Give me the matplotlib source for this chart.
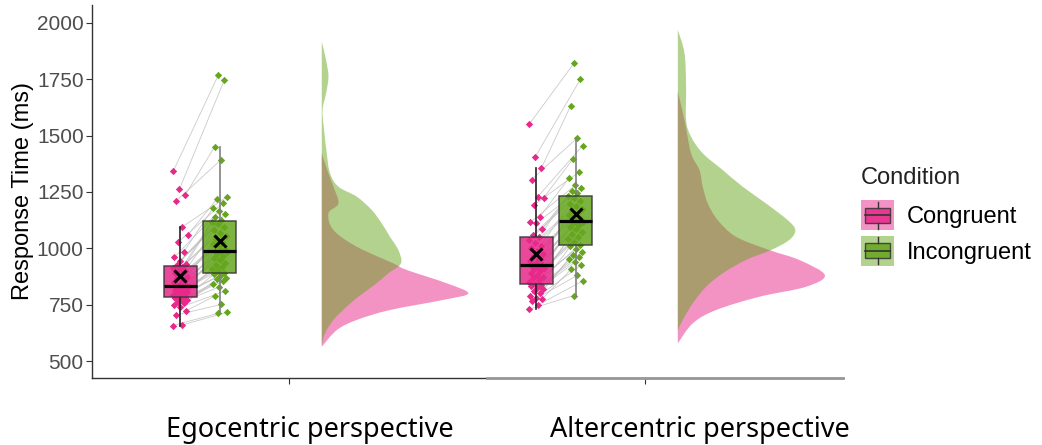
import numpy as np
import matplotlib.pyplot as plt
from matplotlib.patches import Rectangle, PathPatch
from matplotlib.path import Path
from matplotlib.lines import Line2D
from matplotlib.legend_handler import HandlerBase

plt.rcParams['font.family'] = ['Liberation Sans', 'DejaVu Sans']

# response times (ms), one value per participant, paired by index
ego_cong = [657, 660, 704, 722, 738, 748, 756, 763, 770, 775, 779, 783,
            787, 792, 797, 802, 807, 812, 817, 821, 825, 829, 832, 833,
            836, 842, 850, 858, 866, 874, 882, 890, 898, 905, 912, 918,
            925, 932, 945, 960, 985, 1026, 1058, 1093, 1208, 1237, 1261, 1343]
ego_incong = [711, 716, 751, 790, 810, 828, 842, 853, 862, 870, 878, 886,
              891, 898, 906, 915, 924, 935, 946, 957, 967, 976, 983, 986,
              990, 998, 1008, 1018, 1030, 1042, 1055, 1068, 1080, 1095, 1108, 1118,
              1125, 1140, 1152, 1165, 1180, 1200, 1218, 1227, 1391, 1450, 1746, 1768]
alt_cong = [729, 750, 767, 775, 780, 790, 800, 810, 818, 826, 832, 838,
            843, 850, 858, 866, 874, 882, 890, 898, 906, 913, 919, 922,
            926, 933, 942, 952, 963, 975, 988, 1000, 1012, 1025, 1036, 1048,
            1060, 1085, 1110, 1115, 1140, 1192, 1224, 1228, 1305, 1355, 1406, 1551]
alt_incong = [790, 856, 880, 908, 925, 939, 952, 962, 972, 985, 998, 1008,
              1016, 1028, 1040, 1052, 1063, 1074, 1085, 1095, 1104, 1111, 1116, 1118,
              1122, 1128, 1136, 1146, 1156, 1166, 1176, 1186, 1198, 1210, 1222, 1230,
              1243, 1255, 1267, 1280, 1313, 1338, 1396, 1455, 1487, 1632, 1749, 1823]

# density profiles: (response time, relative density)
ego_cong_rt = [1421, 1332, 1273, 1199, 1155, 1081, 1007, 933, 904, 845, 800, 771, 726, 682, 637, 563]
ego_cong_d = [0, 6.7, 11.7, 16.7, 6.7, 11.7, 35, 71.7, 85, 125, 146.7, 121.7, 68.3, 35, 15, 0]
ego_incong_rt = [1916, 1835, 1761, 1687, 1613, 1524, 1421, 1332, 1273, 1229, 1170, 1111,
                 1051, 992, 933, 889, 845, 785, 741, 682, 623, 571]
ego_incong_d = [0, 4.3, 6.7, 4.3, 0.8, 2.3, 5, 8.3, 16.7, 35, 50, 60,
                68.3, 76.7, 79.3, 66.7, 55, 36.7, 25, 11.7, 3.3, 0]
alt_cong_rt = [1694, 1569, 1421, 1347, 1273, 1199, 1125, 1051, 992, 948, 881, 829, 785, 726, 667, 578]
alt_cong_d = [0, 6.7, 13.3, 21.7, 25, 30, 40, 58.3, 91.7, 121.7, 147.3, 128.3, 81.7, 38.3, 15, 0]
alt_incong_rt = [1968, 1865, 1717, 1569, 1495, 1421, 1347, 1273, 1199, 1125, 1081, 1037,
                 992, 948, 889, 829, 756, 682, 637]
alt_incong_d = [0, 6.7, 8.3, 8.3, 13.3, 25, 45, 65, 88.3, 110, 117.7, 111.7,
                93.3, 68.3, 45, 28.3, 15, 5, 0]

conditions = ['Congruent', 'Incongruent']
perspectives = ['Egocentric perspective', 'Altercentric perspective']
colors = ['#E7298A', '#66A61E']

panels = [
    (ego_cong, ego_incong, (ego_cong_rt, ego_cong_d), (ego_incong_rt, ego_incong_d)),
    (alt_cong, alt_incong, (alt_cong_rt, alt_cong_d), (alt_incong_rt, alt_incong_d)),
]


def smooth_outline(xs, ys, x_base):
    # catmull-rom -> cubic bezier through the read points, closed along the baseline
    pts = np.column_stack([xs, ys])
    ext = np.vstack([pts[0], pts, pts[-1]])
    verts = [tuple(pts[0])]
    codes = [Path.MOVETO]
    for i in range(1, len(ext) - 2):
        p0, p1, p2, p3 = ext[i - 1], ext[i], ext[i + 1], ext[i + 2]
        c1 = p1 + (p2 - p0) / 6
        c2 = p2 - (p3 - p1) / 6
        c1[0] = max(c1[0], x_base)
        c2[0] = max(c2[0], x_base)
        verts += [tuple(c1), tuple(c2), tuple(p2)]
        codes += [Path.CURVE4] * 3
    verts += [(x_base, ys[-1]), (x_base, ys[0]), (x_base, ys[0])]
    codes += [Path.LINETO, Path.LINETO, Path.CLOSEPOLY]
    return Path(verts, codes)


fig = plt.figure(figsize=(10.42, 4.45), dpi=100)
ax = fig.add_axes([92 / 1042, 67 / 445, 751 / 1042, 373 / 445])

box_off = [-0.305, -0.195]
box_w = 0.093
violin_off = 0.092
violin_w = 0.413
dmax = max(max(ego_cong_d), max(ego_incong_d), max(alt_cong_d), max(alt_incong_d))

for k, (c, ic, dc, dic) in enumerate(panels):
    xc = k + 1
    c = np.array(c)
    ic = np.array(ic)
    n = len(c)
    j1 = 0.022 * (((np.arange(n) * 0.618034) % 1) * 2 - 1)
    j2 = 0.022 * (((np.arange(n) * 0.618034 + 0.37) % 1) * 2 - 1)
    x1 = xc + box_off[0] + j1
    x2 = xc + box_off[1] + j2
    # paired lines
    for a in range(n):
        ax.plot([x1[a], x2[a]], [c[a], ic[a]], color='#bdbdbd', lw=0.6, alpha=0.8, zorder=1)
    ax.scatter(x1, c, marker='D', s=14, color=colors[0], zorder=2, linewidths=0)
    ax.scatter(x2, ic, marker='D', s=14, color=colors[1], zorder=2, linewidths=0)

    bp = ax.boxplot([c, ic], positions=[xc + box_off[0], xc + box_off[1]], widths=box_w,
                    patch_artist=True, showfliers=False, showmeans=True, showcaps=False,
                    manage_ticks=False,
                    medianprops=dict(color='black', lw=2.3),
                    meanprops=dict(marker='x', markeredgecolor='black', markersize=9, markeredgewidth=2.2),
                    boxprops=dict(edgecolor='#333333', lw=1.1),
                    whiskerprops=dict(lw=1.2))
    for i, patch in enumerate(bp['boxes']):
        patch.set_facecolor(colors[i])
        patch.set_alpha(0.85)
        patch.set_edgecolor('#333333')
        patch.set_zorder(3)
    for w in bp['whiskers'][:2]:
        w.set_color('#222222')
    for w in bp['whiskers'][2:]:
        w.set_color('#808080')
    for m in bp['medians'] + bp['means']:
        m.set_zorder(4)

    # half violins (pink first, green on top)
    for i, (rt, d) in enumerate([dc, dic]):
        base = xc + violin_off
        width = np.array(d) / dmax * violin_w
        path = smooth_outline(base + width, np.array(rt, dtype=float), base)
        ax.add_patch(PathPatch(path, facecolor=colors[i], alpha=0.5, lw=0, zorder=1))

ax.set_xlim(0.4466, 2.556)
ax.set_ylim(424.6, 2079)
ax.set_yticks([500, 750, 1000, 1250, 1500, 1750, 2000])
ax.set_xticks([1, 2])
ax.set_xticklabels(['', ''])
for s in ['top', 'right']:
    ax.spines[s].set_visible(False)
for s in ['left', 'bottom']:
    ax.spines[s].set_color('#333333')
    ax.spines[s].set_linewidth(1)
ax.tick_params(axis='y', labelsize=15, labelcolor='#4d4d4d', color='#333333', length=4, pad=2)
ax.tick_params(axis='x', color='#333333', length=4)
ax.set_ylabel('Response Time (ms)', fontsize=17, color='black', labelpad=2)

# grey overlay on the right part of the x axis line
ax.plot([1.5548, 2.556], [424.6, 424.6], color='#999999', lw=2, clip_on=False, zorder=5)

# x labels
xlab_pos = [309.5 / 1042, 699.5 / 1042]
for p, t in zip(xlab_pos, perspectives):
    fig.text(p, 1 - 437 / 445, t, ha='center', va='baseline', fontsize=19.5,
             family=['Noto Sans', 'DejaVu Sans'], color='black')


class BoxKey(HandlerBase):
    def create_artists(self, legend, orig_handle, xdescent, ydescent, width, height, fontsize, trans):
        col = orig_handle.get_facecolor()
        x0, y0 = -xdescent, -ydescent
        bg = Rectangle((x0, y0), width, height, facecolor=col, alpha=0.5, edgecolor='none', transform=trans)
        box = Rectangle((x0 + width * 0.12, y0 + height * 0.25), width * 0.76, height * 0.5,
                        facecolor=col, alpha=0.85, edgecolor='#333333', lw=1, transform=trans)
        med = Line2D([x0 + width * 0.12, x0 + width * 0.88], [y0 + height * 0.5] * 2, color='#333333', lw=1.2, transform=trans)
        w1 = Line2D([x0 + width * 0.5] * 2, [y0 + height * 0.75, y0 + height * 0.95], color='#333333', lw=1, transform=trans)
        w2 = Line2D([x0 + width * 0.5] * 2, [y0 + height * 0.05, y0 + height * 0.25], color='#333333', lw=1, transform=trans)
        return [bg, box, med, w1, w2]


handles = [Rectangle((0, 0), 1, 1, facecolor=col) for col in colors]
leg = fig.legend(handles, conditions, handler_map={Rectangle: BoxKey()},
                 loc='upper left', bbox_to_anchor=(861 / 1042, 1 - 167 / 445),
                 frameon=False, fontsize=17, title='Condition', title_fontsize=17,
                 alignment='left', handlelength=1.4, handleheight=1.6,
                 labelspacing=0.22, handletextpad=0.55, borderpad=0, borderaxespad=0)
leg.get_title().set_color('#222222')
leg._legend_box.sep = 8

fig.savefig('out.png', dpi=100)
